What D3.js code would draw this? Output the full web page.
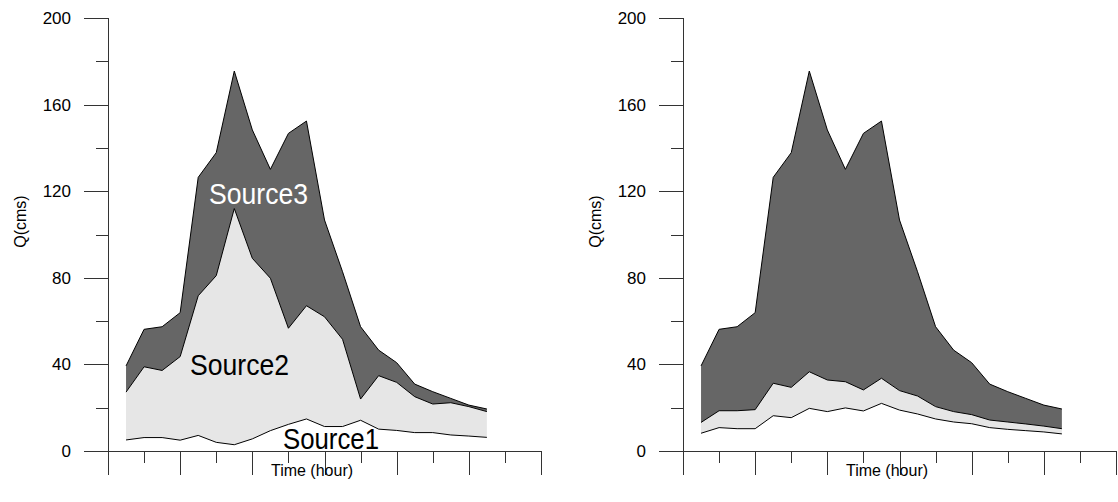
<!DOCTYPE html>
<html>
<head>
<meta charset="utf-8">
<script src="https://cdn.jsdelivr.net/npm/d3@7"></script>
<style>
  html, body { margin: 0; padding: 0; background: #fff; }
  svg { display: block; }
  text { font-family: Arial, "Liberation Sans", Helvetica, sans-serif; }
</style>
</head>
<body>
<svg id="chart" width="1118" height="502"></svg>
<script>
// Hourly discharge separated into three sources (cms), two separations
const hours = [1, 2, 3, 4, 5, 6, 7, 8, 9, 10, 11, 12, 13, 14, 15, 16, 17, 18, 19, 20, 21];

// Left panel
const source1 = [5.1, 6.2, 6.2, 5.0, 7.2, 4.0, 2.9, 5.6, 9.4, 12.3, 14.8, 11.3, 11.3, 14.2, 10.1, 9.5, 8.5, 8.5, 7.4, 6.9, 6.3];
const source2 = [22.1, 32.7, 31.0, 38.6, 64.5, 77.0, 109.1, 83.4, 70.4, 44.4, 52.3, 50.7, 40.3, 9.8, 24.7, 22.2, 16.6, 13.2, 14.9, 13.6, 11.9];
const source3 = [12.1, 17.3, 20.2, 20.3, 54.7, 56.8, 63.5, 59.3, 50.3, 90.0, 85.3, 44.7, 31.2, 33.4, 11.8, 9.1, 5.8, 5.7, 2.0, 0.7, 1.2];

// Right panel
const source1B = [8.2, 10.8, 10.3, 10.3, 16.3, 15.4, 19.7, 18.2, 19.9, 18.5, 22.0, 18.9, 17.1, 14.8, 13.4, 12.6, 10.8, 10.0, 9.4, 8.8, 7.9];
const source2B = [5.0, 7.8, 8.3, 8.8, 15.0, 14.0, 16.9, 14.6, 12.1, 9.7, 11.6, 9.0, 8.3, 5.7, 4.8, 4.2, 3.5, 3.4, 3.1, 2.7, 2.4];
const source3B = [26.1, 37.6, 38.8, 44.8, 95.1, 108.4, 138.9, 115.5, 98.1, 118.5, 118.8, 78.8, 57.4, 36.9, 28.4, 24.0, 16.6, 14.0, 11.8, 9.7, 9.1];

const seriesKeys = ["s1", "s2", "s3"];
const yMajorTicks = [0, 40, 80, 120, 160, 200];
const yMinorTicks = [20, 60, 100, 140, 180];
const xMajorTicks = [0, 4, 8, 12, 16, 20, 24];
const xMinorTicks = [2, 6, 10, 14, 18, 22];
const yTitle = "Q(cms)";
const xTitle = "Time (hour)";
const sourceLabels = ["Source1", "Source2", "Source3"];

const fills = { s1: "#ffffff", s2: "#e6e6e6", s3: "#666666" };
const axisColor = "#333";

const svg = d3.select("#chart");

function buildRows(a, b, c) {
  return hours.map((h, i) => ({ hour: h, s1: a[i], s2: b[i], s3: c[i] }));
}

function drawPanel(offsetX, rows, labelled) {
  const g = svg.append("g").attr("transform", `translate(${offsetX},0)`);

  const x = d3.scaleLinear().domain([0, 24]).range([108, 541]);
  const y = d3.scaleLinear().domain([0, 200]).range([451, 18]);

  const stacked = d3.stack().keys(seriesKeys)(rows);

  const area = d3.area()
    .x(d => x(d.data.hour))
    .y0(d => y(d[0]))
    .y1(d => y(d[1]));

  const topLine = d3.line()
    .x(d => x(d.data.hour))
    .y(d => y(d[1]));

  g.selectAll("path.layer")
    .data(stacked)
    .join("path")
    .attr("class", "layer")
    .attr("d", area)
    .attr("fill", d => fills[d.key])
    .attr("stroke", "none");

  g.selectAll("path.edge")
    .data(stacked)
    .join("path")
    .attr("class", "edge")
    .attr("d", topLine)
    .attr("fill", "none")
    .attr("stroke", "#000")
    .attr("stroke-width", 1)
    .attr("stroke-linejoin", "miter");

  // Y axis: labelled major ticks and shorter minor ticks
  const yAxis = g.append("g")
    .attr("transform", `translate(${x(0)},0)`)
    .call(d3.axisLeft(y).tickValues(yMajorTicks).tickSize(24).tickPadding(13).tickFormat(d3.format("d")));
  yAxis.select(".domain").remove();
  yAxis.selectAll("line").attr("stroke", axisColor).attr("shape-rendering", "crispEdges");
  yAxis.selectAll("text").attr("font-size", 17).attr("fill", "#000")
    .attr("font-family", "Arial, 'Liberation Sans', sans-serif");

  const yMinor = g.append("g")
    .attr("transform", `translate(${x(0)},0)`)
    .call(d3.axisLeft(y).tickValues(yMinorTicks).tickSize(12).tickFormat(""));
  yMinor.select(".domain").remove();
  yMinor.selectAll("line").attr("stroke", axisColor).attr("shape-rendering", "crispEdges");

  // X axis: unlabelled long and short ticks
  const xAxis = g.append("g")
    .attr("transform", `translate(0,${y(0)})`)
    .call(d3.axisBottom(x).tickValues(xMajorTicks).tickSize(24).tickFormat(""));
  xAxis.select(".domain").remove();
  xAxis.selectAll("line").attr("stroke", axisColor).attr("shape-rendering", "crispEdges");

  const xMinor = g.append("g")
    .attr("transform", `translate(0,${y(0)})`)
    .call(d3.axisBottom(x).tickValues(xMinorTicks).tickSize(12).tickFormat(""));
  xMinor.select(".domain").remove();
  xMinor.selectAll("line").attr("stroke", axisColor).attr("shape-rendering", "crispEdges");

  // Axis lines
  g.append("line")
    .attr("x1", x(0)).attr("x2", x(0))
    .attr("y1", y(200)).attr("y2", y(0) + 24)
    .attr("stroke", axisColor).attr("shape-rendering", "crispEdges");
  g.append("line")
    .attr("x1", x(0)).attr("x2", x(24))
    .attr("y1", y(0)).attr("y2", y(0))
    .attr("stroke", axisColor).attr("shape-rendering", "crispEdges");

  // Axis titles
  g.append("text")
    .attr("transform", `translate(26,${y(106)}) rotate(-90)`)
    .attr("text-anchor", "middle")
    .attr("font-size", 16)
    .text(yTitle);
  g.append("text")
    .attr("x", 312)
    .attr("y", 476)
    .attr("text-anchor", "middle")
    .attr("font-size", 16)
    .text(xTitle);

  if (labelled) {
    const spots = [
      { text: sourceLabels[2], t: 5.6, v: 114, len: 99, color: "#fff" },
      { text: sourceLabels[1], t: 4.55, v: 35.1, len: 99, color: "#000" },
      { text: sourceLabels[0], t: 9.7, v: 0.9, len: 96, color: "#000" }
    ];
    g.selectAll("text.src")
      .data(spots)
      .join("text")
      .attr("class", "src")
      .attr("x", d => x(d.t))
      .attr("y", d => y(d.v))
      .attr("font-size", 30)
      .attr("textLength", d => d.len)
      .attr("lengthAdjust", "spacingAndGlyphs")
      .attr("fill", d => d.color)
      .text(d => d.text);
  }
}

drawPanel(0, buildRows(source1, source2, source3), true);
drawPanel(575, buildRows(source1B, source2B, source3B), false);
</script>
</body>
</html>
